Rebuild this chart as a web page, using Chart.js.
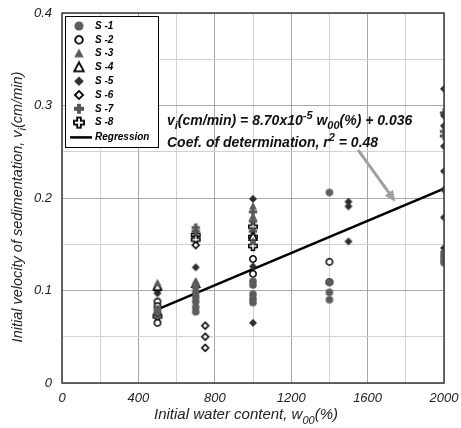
<!DOCTYPE html>
<html>
<head>
<meta charset="utf-8">
<script src="https://cdn.jsdelivr.net/npm/chart.js@4.4.1/dist/chart.umd.min.js"></script>
<style>
  body { margin: 0; background: #fff; }
  canvas { display: block; }
</style>
</head>
<body>
<canvas id="sedChart" width="461" height="428"></canvas>
<script>
// series values (x = w00 %, y = vi cm/min)
const s1X = [500, 500, 700, 700, 700, 700, 700, 700, 1000, 1000, 1000, 1000, 1000, 1400, 1400, 1400, 1400, 2000, 2000, 2000, 2000];
const s1Y = [0.080, 0.077, 0.104, 0.098, 0.093, 0.088, 0.082, 0.077, 0.110, 0.106, 0.096, 0.091, 0.087, 0.206, 0.109, 0.098, 0.090, 0.141, 0.137, 0.133, 0.130];
const s2X = [500, 500, 500, 1000, 1000, 1400, 1400];
const s2Y = [0.088, 0.083, 0.065, 0.134, 0.118, 0.131, 0.109];
const s3X = [500, 700, 1000, 1000, 1000];
const s3Y = [0.108, 0.110, 0.191, 0.180, 0.153];
const s4X = [500, 700, 1000];
const s4Y = [0.104, 0.107, 0.158];
const s5X = [500, 500, 700, 1000, 1000, 1000, 1500, 1500, 1500, 2000, 2000, 2000, 2000, 2000, 2000, 2000, 2000];
const s5Y = [0.100, 0.097, 0.125, 0.199, 0.126, 0.065, 0.196, 0.191, 0.153, 0.318, 0.289, 0.278, 0.256, 0.229, 0.209, 0.179, 0.146];
const s6X = [500, 700, 750, 750, 750];
const s6Y = [0.075, 0.149, 0.062, 0.050, 0.038];
const s7X = [500, 700, 700, 1000, 1000, 1000, 2000, 2000, 2000];
const s7Y = [0.102, 0.168, 0.164, 0.185, 0.175, 0.164, 0.292, 0.272, 0.267];
const s8X = [500, 700, 700, 1000, 1000, 1000];
const s8Y = [0.072, 0.160, 0.155, 0.169, 0.158, 0.148];

// regression line end points
const regX = [500, 2000];
const regY = [0.0795, 0.210];

const seriesNames = ['S -1', 'S -2', 'S -3', 'S -4', 'S -5', 'S -6', 'S -7', 'S -8'];

// axis limits / ticks
const xMin = 0, xMax = 2000, xStep = 200, xLabelEvery = 400;
const yMin = 0, yMax = 0.4, yStep = 0.05, yLabelEvery = 0.1;

const FONT = '"Liberation Sans", Arial, sans-serif';

// build small canvases used as point symbols
function makeMarker(kind, scale) {
  scale = scale || 1;
  const size = Math.round(12 * scale);
  const c = document.createElement('canvas');
  c.width = size; c.height = size;
  const g = c.getContext('2d');
  const m = size / 2;
  g.translate(m, m);
  g.scale(scale, scale);
  g.lineWidth = 1.5;
  g.strokeStyle = '#000';
  g.beginPath();
  if (kind === 'circle') {
    g.arc(0, 0, 3.8, 0, Math.PI * 2);
    g.fillStyle = '#5c5c5c'; g.fill();
  } else if (kind === 'ocircle') {
    g.arc(0, 0, 3.2, 0, Math.PI * 2);
    g.fillStyle = '#fff'; g.fill(); g.stroke();
  } else if (kind === 'tri' || kind === 'otri') {
    g.moveTo(0, -4.2); g.lineTo(4, 3.2); g.lineTo(-4, 3.2); g.closePath();
    if (kind === 'tri') { g.fillStyle = '#5a5a5a'; g.fill(); }
    else { g.fillStyle = '#fff'; g.fill(); g.stroke(); }
  } else if (kind === 'dia' || kind === 'odia') {
    const r = kind === 'dia' ? 4 : 3.4;
    g.moveTo(0, -r); g.lineTo(r, 0); g.lineTo(0, r); g.lineTo(-r, 0); g.closePath();
    if (kind === 'dia') { g.fillStyle = '#2e2e2e'; g.fill(); }
    else { g.fillStyle = '#fff'; g.fill(); g.stroke(); }
  } else if (kind === 'plus' || kind === 'oplus') {
    const a = 4.2, w = kind === 'plus' ? 1.6 : 1.5;
    g.moveTo(-w, -a); g.lineTo(w, -a); g.lineTo(w, -w); g.lineTo(a, -w); g.lineTo(a, w);
    g.lineTo(w, w); g.lineTo(w, a); g.lineTo(-w, a); g.lineTo(-w, w); g.lineTo(-a, w);
    g.lineTo(-a, -w); g.lineTo(-w, -w); g.closePath();
    if (kind === 'plus') { g.fillStyle = '#555'; g.fill(); }
    else { g.fillStyle = '#fff'; g.fill(); g.stroke(); }
  }
  return c;
}

const markerKinds = ['circle', 'ocircle', 'tri', 'otri', 'dia', 'odia', 'plus', 'oplus'];
const markers = markerKinds.map(k => makeMarker(k, 1));
const legendMarkers = markerKinds.map(k => makeMarker(k, 1.2));

const xs = [s1X, s2X, s3X, s4X, s5X, s6X, s7X, s8X];
const ys = [s1Y, s2Y, s3Y, s4Y, s5Y, s6Y, s7Y, s8Y];

const datasets = seriesNames.map((name, i) => ({
  type: 'scatter',
  label: name,
  data: xs[i].map((x, j) => ({ x: x, y: ys[i][j] })),
  pointStyle: markers[i],
  pointRadius: 5,
  showLine: false
}));

datasets.push({
  type: 'line',
  label: 'Regression',
  data: regX.map((x, j) => ({ x: x, y: regY[j] })),
  borderColor: '#000',
  borderWidth: 2.5,
  pointRadius: 0,
  fill: false
});

// draw text with sub/superscript parts: [text, 'sub'|'sup'|undefined]
function richText(ctx, parts, x, y, size, weight, align) {
  const base = 'italic ' + weight + ' ' + size + 'px ' + FONT;
  const small = 'italic ' + weight + ' ' + Math.round(size * 0.75) + 'px ' + FONT;
  let total = 0;
  parts.forEach(p => { ctx.font = p[1] ? small : base; total += ctx.measureText(p[0]).width; });
  let cx = align === 'center' ? x - total / 2 : x;
  ctx.textBaseline = 'alphabetic';
  ctx.textAlign = 'left';
  parts.forEach(p => {
    ctx.font = p[1] ? small : base;
    let dy = 0;
    if (p[1] === 'sub') dy = size * 0.3;
    if (p[1] === 'sup') dy = -size * 0.4;
    ctx.fillText(p[0], cx, y + dy);
    cx += ctx.measureText(p[0]).width;
  });
  return total;
}

const extras = {
  id: 'extras',
  afterDraw(chart) {
    const ctx = chart.ctx;
    const a = chart.chartArea;
    const sx = chart.scales.x, sy = chart.scales.y;
    ctx.save();

    // frame
    ctx.strokeStyle = '#3c3c3c';
    ctx.lineWidth = 1.5;
    ctx.strokeRect(a.left, a.top, a.right - a.left, a.bottom - a.top);

    // equation
    ctx.fillStyle = '#111';
    richText(ctx, [['v'], ['i', 'sub'], ['(cm/min) = 8.70x10'], ['-5', 'sup'], [' w'], ['00', 'sub'], ['(%) + 0.036']],
      a.left + 105, a.top + 112, 14, 'bold', 'left');
    richText(ctx, [['Coef. of determination, r'], ['2', 'sup'], [' = 0.48']],
      a.left + 105, a.top + 134, 14, 'bold', 'left');

    // arrow
    const x0 = sx.getPixelForValue(1550), y0 = sy.getPixelForValue(0.252);
    const x1 = sx.getPixelForValue(1745), y1 = sy.getPixelForValue(0.196);
    const ang = Math.atan2(y1 - y0, x1 - x0);
    ctx.strokeStyle = '#a0a0a0';
    ctx.fillStyle = '#a0a0a0';
    ctx.lineWidth = 3;
    ctx.beginPath();
    ctx.moveTo(x0, y0);
    ctx.lineTo(x1 - 8 * Math.cos(ang), y1 - 8 * Math.sin(ang));
    ctx.stroke();
    ctx.beginPath();
    ctx.moveTo(x1, y1);
    ctx.lineTo(x1 - 11 * Math.cos(ang) + 5 * Math.sin(ang), y1 - 11 * Math.sin(ang) - 5 * Math.cos(ang));
    ctx.lineTo(x1 - 11 * Math.cos(ang) - 5 * Math.sin(ang), y1 - 11 * Math.sin(ang) + 5 * Math.cos(ang));
    ctx.closePath();
    ctx.fill();

    // legend box
    const lx = a.left + 3, ly = a.top + 3, lw = 93, lh = 131;
    ctx.fillStyle = '#fff';
    ctx.fillRect(lx, ly, lw, lh);
    ctx.strokeStyle = '#000';
    ctx.lineWidth = 1;
    ctx.strokeRect(lx + 0.5, ly + 0.5, lw, lh);
    ctx.font = 'italic bold 10px ' + FONT;
    ctx.textBaseline = 'middle';
    ctx.textAlign = 'left';
    ctx.fillStyle = '#000';
    seriesNames.forEach((name, i) => {
      const ry = ly + 10 + i * 13.8;
      const m = legendMarkers[i];
      ctx.drawImage(m, lx + 14 - m.width / 2, ry - m.height / 2);
      ctx.fillText(name, lx + 30, ry);
    });
    const ry = ly + 10 + 8 * 13.8 + 1;
    ctx.lineWidth = 2.5;
    ctx.beginPath();
    ctx.moveTo(lx + 5, ry); ctx.lineTo(lx + 27, ry);
    ctx.stroke();
    ctx.fillText('Regression', lx + 30, ry);

    // axis titles
    ctx.fillStyle = '#222';
    richText(ctx, [['Initial water content, w'], ['00', 'sub'], ['(%)']],
      246, 419, 15, 'normal', 'center');
    ctx.translate(22, 207);
    ctx.rotate(-Math.PI / 2);
    richText(ctx, [['Initial velocity of sedimentation, v'], ['i', 'sub'], ['(cm/min)']],
      0, 0, 14.5, 'normal', 'center');
    ctx.restore();
  }
};

function isMult(v, step) {
  const r = v / step;
  return Math.abs(r - Math.round(r)) < 1e-6;
}

new Chart(document.getElementById('sedChart'), {
  data: { datasets: datasets },
  options: {
    responsive: false,
    animation: false,
    layout: { padding: { top: 13, right: 17, left: 0, bottom: 0 } },
    plugins: { legend: { display: false }, tooltip: { enabled: false } },
    scales: {
      x: {
        type: 'linear',
        min: xMin, max: xMax,
        ticks: {
          stepSize: xStep,
          maxRotation: 0,
          padding: 8,
          color: '#222',
          font: { family: FONT, size: 13, style: 'italic' },
          callback: v => isMult(v, xLabelEvery) ? String(v) : ''
        },
        grid: {
          color: c => isMult(c.tick.value, xLabelEvery) ? '#a8a8a8' : '#d2d2d2',
          lineWidth: 1,
          drawTicks: false
        },
        border: { display: false },
        afterFit: s => { s.height = 45; s.paddingLeft = 0; s.paddingRight = 0; }
      },
      y: {
        type: 'linear',
        min: yMin, max: yMax,
        ticks: {
          stepSize: yStep,
          padding: 10,
          color: '#222',
          font: { family: FONT, size: 13, style: 'italic' },
          callback: v => isMult(v, yLabelEvery) ? String(Math.round(v * 10) / 10) : ''
        },
        grid: {
          color: c => isMult(c.tick.value, yLabelEvery) ? '#a8a8a8' : '#d2d2d2',
          lineWidth: 1,
          drawTicks: false
        },
        border: { display: false },
        afterFit: s => { s.width = 62; s.paddingTop = 0; s.paddingBottom = 0; }
      }
    }
  },
  plugins: [extras]
});
</script>
</body>
</html>
